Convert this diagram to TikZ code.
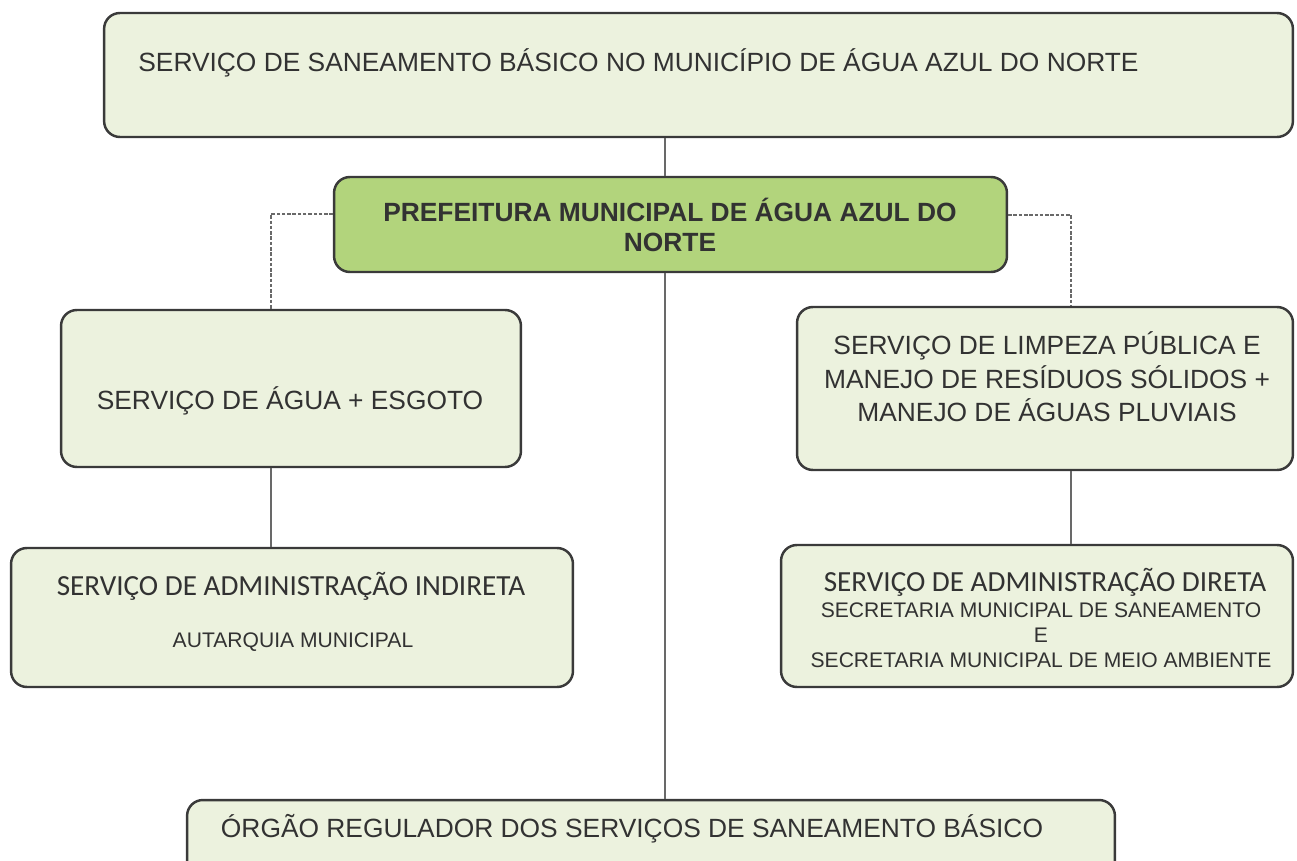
\documentclass[tikz,border=0pt]{standalone}
\usepackage{fontspec}
\setmainfont{Liberation Sans}
\newfontfamily\calibfont{Carlito}
\definecolor{boxfill}{RGB}{236,242,222}
\definecolor{preffill}{RGB}{178,212,124}
\definecolor{boxline}{RGB}{58,58,58}
\definecolor{txtgray}{RGB}{50,50,50}
\definecolor{linkgray}{RGB}{105,105,105}
\newcommand{\bigtxt}{\fontsize{15}{19}\selectfont}
\newcommand{\smalltxt}{\fontsize{12}{14.2}\selectfont}
\newcommand{\calibtxt}{\calibfont\fontsize{16.6}{20}\selectfont}
\tikzset{
  box/.style={draw=boxline, line width=1.4pt, fill=boxfill, rounded corners=9pt, inner sep=0pt},
  txt/.style={inner sep=0pt, text=txtgray, anchor=base},
  link/.style={draw=linkgray, line width=0.6pt},
  dlink/.style={link, dash pattern=on 2pt off 1pt},
}

\begin{document}
\begin{tikzpicture}[x=0.02cm,y=-0.02cm]
        \useasboundingbox[fill=white] (0,0) rectangle (1297,861);
        % boxes
        \node[box, minimum width=23.78cm, minimum height=2.48cm] (top) at (698.5,75) {};
        \node[box, fill=preffill, minimum width=13.46cm, minimum height=1.9cm] (pref) at (670.5,224.5) {};
        \node[box, minimum width=9.2cm, minimum height=3.14cm] (water) at (291,388.5) {};
        \node[box, minimum width=9.92cm, minimum height=3.26cm] (waste) at (1045,388.5) {};
        \node[box, minimum width=11.24cm, minimum height=2.78cm] (indir) at (292,617.5) {};
        \node[box, minimum width=10.24cm, minimum height=2.84cm] (dir) at (1037,616) {};
        \node[box, minimum width=18.56cm, minimum height=2.4cm] (reg) at (651,860) {};
        % connectors
        \coordinate (spine) at (665,0);
        \coordinate (lk) at (271,214);
        \coordinate (rk) at (1071,215);
        \draw[link] (top.south -| spine) -- (pref.north -| spine);
        \draw[link] (pref.south -| spine) -- (reg.north -| spine);
        \draw[dlink] (pref.west |- lk) -- (lk) -- (lk |- water.north);
        \draw[dlink] (pref.east |- rk) -- (rk) -- (rk |- waste.north);
        \draw[link] (lk |- water.south) -- (lk |- indir.north);
        \draw[link] (rk |- waste.south) -- (rk |- dir.north);
        % texts (base of a multi-line node = its last line)
        \node[txt, anchor=base west, font=\bigtxt] (toptxt) at (138,71.5) {SERVIÇO DE SANEAMENTO BÁSICO NO MUNICÍPIO DE ÁGUA AZUL DO NORTE};
        \node[txt, align=center, font=\bfseries\fontsize{15}{17}\selectfont] (preftxt) at (670,251.5) {PREFEITURA MUNICIPAL DE ÁGUA AZUL DO\\NORTE};
        \node[txt, font=\bigtxt] (watertxt) at (290,409.5) {SERVIÇO DE ÁGUA + ESGOTO};
        \node[txt, align=center, font=\bigtxt] (wastetxt) at (1047,421.5) {SERVIÇO DE LIMPEZA PÚBLICA E\\MANEJO DE RESÍDUOS SÓLIDOS +\\MANEJO DE ÁGUAS PLUVIAIS};
        \node[txt, font=\calibtxt] (indirtxt) at (291,595.5) {SERVIÇO DE ADMINISTRAÇÃO INDIRETA};
        \node[txt, font=\smalltxt] (autarq) at (293,647.5) {AUTARQUIA MUNICIPAL};
        \node[txt, font=\calibtxt] (dirtxt) at (1045,591.5) {SERVIÇO DE ADMINISTRAÇÃO DIRETA};
        \node[txt, align=center, font=\smalltxt] (sectxt) at (1041,667.5) {SECRETARIA MUNICIPAL DE SANEAMENTO\\E\\SECRETARIA MUNICIPAL DE MEIO AMBIENTE};
        \node[txt, font=\bigtxt] (regtxt) at (632,837.5) {ÓRGÃO REGULADOR DOS SERVIÇOS DE SANEAMENTO BÁSICO};
      \end{tikzpicture}
\end{document}
